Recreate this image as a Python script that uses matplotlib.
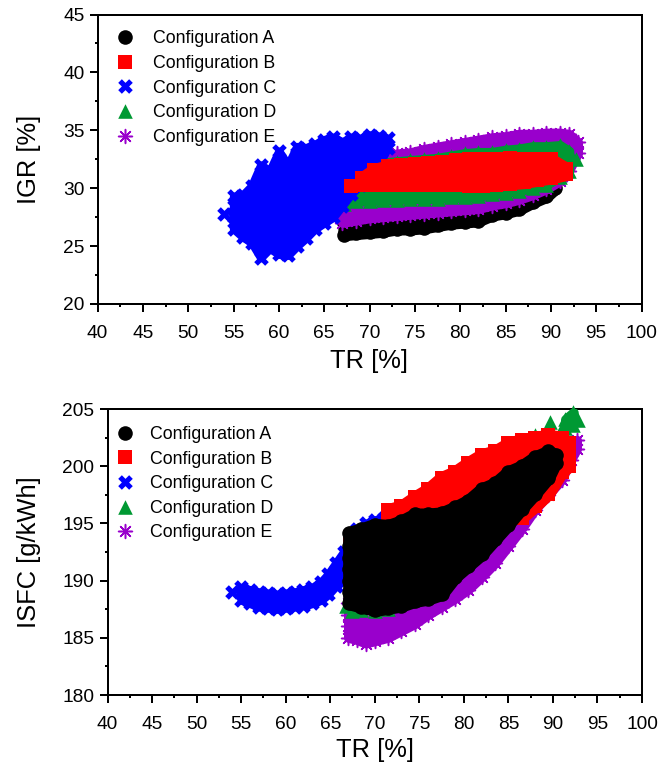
import matplotlib
matplotlib.use("Agg")
import matplotlib.pyplot as plt
from matplotlib.ticker import MultipleLocator

plt.rcParams['font.family'] = ['Liberation Sans', 'DejaVu Sans']

LABELS = ['Configuration A', 'Configuration B', 'Configuration C', 'Configuration D', 'Configuration E']
TR_TICKS = list(range(40, 101, 5))
IGR_TICKS = [20, 25, 30, 35, 40, 45]
ISFC_TICKS = [180, 185, 190, 195, 200, 205]

# Each entry: (TR value, [response values read at that TR])
a_igr = [(67.2,[26,27]),(68.5,[26.1,27]),(70,[26.2,27.2]),(71.5,[26.3,27.3]),(73,[26.5,27.4]),(74.5,[26.5,27.5]),
         (76,[26.6,27.6]),(77.5,[26.8,27.8]),(79,[27,28]),(80.5,[27.1,28.1]),(82,[27.2,28.2]),(83.5,[27.7,28.6]),
         (85,[27.9,28.8]),(86.5,[28.2,29]),(88,[28.8,29.6]),(89.5,[29.3,30]),(90.5,[30,30.8])]
e_igr = [(67,[27,28,29]),(68.5,[27.2,28.2,30.5]),(70,[27.4,28.4,32.2]),(71.5,[27.5,28.5,32.7]),(73,[27.6,28.6,33]),
         (74.5,[27.7,28.7,33.1]),(76,[27.8,28.8,33.4]),(77.5,[27.9,28.9,33.6]),(79,[28,29,33.8]),(80.5,[28.1,29.1,34]),
         (82,[28.2,29.2,34.2]),(83.5,[28.5,29.5,34.4]),(85,[28.7,29.7,34.5]),(86.5,[29,30,34.7]),(88,[29.4,30.4,34.7]),
         (89.5,[29.9,30.9,34.8]),(91,[30.6,31.6,34.8]),(92,[31.5,32.5,33.5,34.7]),(93,[33,34])]
d_igr = [(67.2,[28.6,29.5]),(68.5,[28.9,30.5]),(70,[28.9,31.8]),(71.5,[29,32.2]),(73,[29,32.3]),(74.5,[29.1,32.4]),
         (76,[29.1,32.5]),(77.5,[29.1,32.6]),(79,[29.2,32.8]),(80.5,[29.2,33]),(82,[29.3,33.1]),(83.5,[29.5,33.1]),
         (85,[29.6,33.3]),(86.5,[29.8,33.4]),(88,[30,33.6]),(89.5,[30.3,33.6]),(91,[31,32,33.7]),(92,[31.5,33.2]),(92.8,[32.5])]
c_igr = [(54,[27.8]),(55,[26.5,27.5,28.5,29.3]),(56,[25.8,26.8,27.8,28.8,29.4]),(57,[25.3,26.3,27.3,28.3,29.3,30.2]),
         (58,[24,25,26,27,28,29,30,31,32]),(59,[24.8,25.8,26.8,27.8,28.8,29.8,30.8,31.5]),
         (60,[24.3,25.3,26.3,27.3,28.3,29.3,30.3,31.3,32.3,33.2]),(61,[24.2,25.2,26.2,27.2,28.2,29.2,30.2,31.2,32]),
         (62,[25,26,27,28,29,30,31,32,33,33.6]),(63,[25.7,26.7,27.7,28.7,29.7,30.7,31.7,32.7,33.5]),
         (64,[26.5,27.5,28.5,29.5,30.5,31.5,32.5,33.8]),(65,[27,28,29,30,31,32,33,34.2]),
         (66,[27.5,28.5,29.5,30.5,31.5,32.5,33.5,34.4]),(67,[28.5,29.5,30.5,31.5,32.5,33.5,34]),
         (68,[29.5,30.5,31.5,32.5,33.5,34.4]),(69,[30.3,31.3,32.3,33.3,34.3]),(70,[31,32,33,34,34.6]),
         (71,[32,33,34,34.5]),(72,[33.5,34.3])]
b_igr = [(68,[30.2]),(69.2,[30.3,30.9]),(70.5,[30.3,31,31.6]),(72,[30.3,31.1,31.9]),(73.5,[30.3,31.2,32]),
         (75,[30.3,31.2,32.1]),(76.5,[30.3,31.2,32.2]),(78,[30.3,31.3,32.3]),(79.5,[30.3,31.3,32.4]),(81,[30.2,31.3,32.5]),
         (82.5,[30.2,31.3,32.5]),(84,[30.3,31.4,32.5]),(85.5,[30.4,31.5,32.6]),(87,[30.5,31.5,32.5]),(88.5,[30.7,31.6,32.5]),
         (90,[30.9,31.7,32.5]),(91.7,[31.2,31.7])]

a_isfc = [(67.1,[188,189,190,191,192,193,194.2]),(68.5,[187.7,188.7,189.7,190.7,191.7,192.7,193.7,194.5]),
          (70,[187.4,188.4,189.4,190.4,191.4,192.4,193.4,194.9]),(71.5,[187.6,188.6,189.6,190.6,191.6,192.6,193.6,194.8]),
          (73,[187.8,188.8,189.8,190.8,191.8,192.8,193.8,195.2]),(74.5,[188.2,189.2,190.2,191.2,192.2,193.2,194.2,195.8]),
          (76,[188.4,189.4,190.4,191.4,192.4,193.4,194.4,195.8]),(77.5,[188.8,189.8,190.8,191.8,192.8,193.8,194.8,195.9]),
          (79,[190.3,191.3,192.3,193.3,194.3,195.3,196.4]),(80.5,[191.3,192.3,193.3,194.3,195.3,196.3,197]),
          (82,[192.3,193.3,194.3,195.3,196.3,197.3,198]),(83.5,[193.6,194.6,195.6,196.6,197.6,198.5]),
          (85,[194.9,195.9,196.9,197.9,198.9,199.5]),(86.5,[196.3,197.3,198.3,199.3,200]),
          (88,[197.6,198.6,199.6,200.8]),(89.5,[199,200,201.3]),(90.3,[200.3,201])]
b_isfc = [(67.2,[193.8]),(71.5,[196.2,195.2]),(73,[196.5,195.5]),(74.5,[197.3,196.3]),(76,[198,197,196]),(77.5,[199,198,197]),
          (79,[199.5,198.5,197.5]),(80.5,[200.3,199.3,198.3]),(82,[201,200,199]),(83.5,[201.3,200.3,199.3]),
          (85,[202,201,200]),(86.5,[202.3,201.3,200.3,195.5]),(88,[202.5,201.5,200.5,199.5,196.5]),
          (89.5,[202.7,201.7,200.7,199.7,198.7,197.6]),(91,[202.5,201.5,200.5,199.5]),(91.8,[202,201,200])]
c_isfc = [(54,[189]),(55,[188.3,189.4]),(56,[188,189.2]),(57,[187.7,189]),(58,[187.6,188.9]),(59,[187.5,188.8]),
          (60,[187.6,188.9]),(61,[187.7,189]),(62,[187.8,189.2]),(63,[188,189.4]),(64,[188.3,189.9]),(64.8,[188.8,190.6]),
          (65.6,[189.5,191.5]),(66.5,[190,191,192.5]),(67.2,[192,193]),(68,[193,194.5]),(69,[194,195]),(70,[194.5,195.3]),
          (71,[194.8,195.5]),(72,[194.7])]
d_isfc = [(66.8,[187.8]),(67.5,[187.3]),(68.5,[187.4]),(70,[187.3]),(71.5,[187.5]),(88,[202.7]),(89.7,[203.9]),
          (90.8,[203]),(91.4,[204.1,203.3]),(92.3,[204.7,203.6]),(92.8,[204])]
e_isfc = [(67,[185,186,187,188]),(68,[184.8,185.8,186.8]),(69,[184.5,185.5,186.5]),(70,[184.7,185.7,186.7]),
          (71.5,[185,186,187,188]),(73,[185.6,186.6,187.6]),(74.5,[186.2,187.2,188.2]),(76,[187,188,189]),
          (77.5,[187.7,188.7,189.7]),(79,[188.4,189.4,190.4]),(80.5,[189.2,190.2,191.2]),(82,[190.3,191.3,192.3]),
          (83.5,[191.5,192.5,193.5]),(85,[193,194,195]),(86.5,[194.5,195.5]),(88,[196.2,197.2]),(89.5,[197.5,198.5]),
          (91,[198.8,199.8,200.8]),(92,[200.5,201.5]),(92.7,[201.5,202.3])]


def points(columns):
    xs, ys = [], []
    for tr, vals in columns:
        for v in vals:
            xs.append(tr)
            ys.append(v)
    return xs, ys


STY = {
    'A': dict(marker='o', s=110, color='#000000', linewidths=0),
    'B': dict(marker='s', s=100, color='#ff0000', linewidths=0),
    'C': dict(marker='X', s=110, color='#0000ff', linewidths=0),
    'D': dict(marker='^', s=110, color='#009933', linewidths=0),
    'E': dict(marker=(8, 2, 0), s=100, color='#9900cc', linewidths=1.1),
}
# The dense cloud is solid between the lowest and highest reading of each column;
# the edge width pads it out to where the markers reach.
BODY_EDGE = {'A': 9.0, 'B': 9.0, 'C': 6.0, 'D': 7.0, 'E': 6.5}

W, H = 660, 767
fig = plt.figure(figsize=(W / 100, H / 100), dpi=100)


def make_axes(l, r, t, b):
    return fig.add_axes([l / W, 1 - b / H, (r - l) / W, (b - t) / H])


def draw(ax, series, order, yticks, yminor, ylabel, text_pad, bbox, xl, yl):
    handles = {}
    for i, key in enumerate(order):
        cols = [c for c in series[key] if len(c[1]) > 1]
        cols = sorted(cols, key=lambda c: c[0])
        ax.fill_between([c[0] for c in cols], [min(c[1]) for c in cols], [max(c[1]) for c in cols],
                        facecolor=STY[key]['color'], edgecolor=STY[key]['color'],
                        linewidth=BODY_EDGE[key], joinstyle='round', zorder=3 + i)
        xs, ys = points(series[key])
        handles[key] = ax.scatter(xs, ys, zorder=3 + i, clip_on=False, **STY[key])
    ax.set_xlim(40, 100)
    ax.set_ylim(yticks[0], yticks[-1])
    ax.set_xticks(TR_TICKS)
    ax.set_yticks(yticks)
    ax.xaxis.set_minor_locator(MultipleLocator(2.5))
    ax.yaxis.set_minor_locator(MultipleLocator(yminor))
    ax.tick_params(which='major', direction='out', length=5.5, width=1.44, labelsize=13.8, pad=4)
    ax.tick_params(which='minor', direction='out', length=2.5, width=1.44)
    ax.tick_params(axis='x', which='major', pad=9.5)
    for s in ax.spines.values():
        s.set_linewidth(1.44)
    ax.set_xlabel('TR [%]', fontsize=18.4)
    ax.set_ylabel(ylabel, fontsize=18.4)
    ax.xaxis.set_label_coords(*xl)
    ax.yaxis.set_label_coords(*yl)
    ax.legend([handles[k] for k in 'ABCDE'], LABELS, loc='upper left', bbox_to_anchor=bbox, frameon=False,
              fontsize=12.8, borderpad=0, borderaxespad=0, labelspacing=0.43, handlelength=2,
              handletextpad=text_pad, scatterpoints=1, scatteryoffsets=[0.5])


ax1 = make_axes(97.5, 641.5, 14.5, 304)
draw(ax1, dict(A=a_igr, B=b_igr, C=c_igr, D=d_igr, E=e_igr), 'AEDCB', IGR_TICKS, 2.5, 'IGR [%]',
     0.55, (0.0184, 0.945), (0.5, -0.155), (-0.104, 0.5))
ax2 = make_axes(107.5, 642, 409, 695)
draw(ax2, dict(A=a_isfc, B=b_isfc, C=c_isfc, D=d_isfc, E=e_isfc), 'EDCBA', ISFC_TICKS, 2.5, 'ISFC [g/kWh]',
     0.37, (0.0, 0.941), (0.5, -0.152), (-0.124, 0.5))

fig.savefig('out.png', dpi=100)
